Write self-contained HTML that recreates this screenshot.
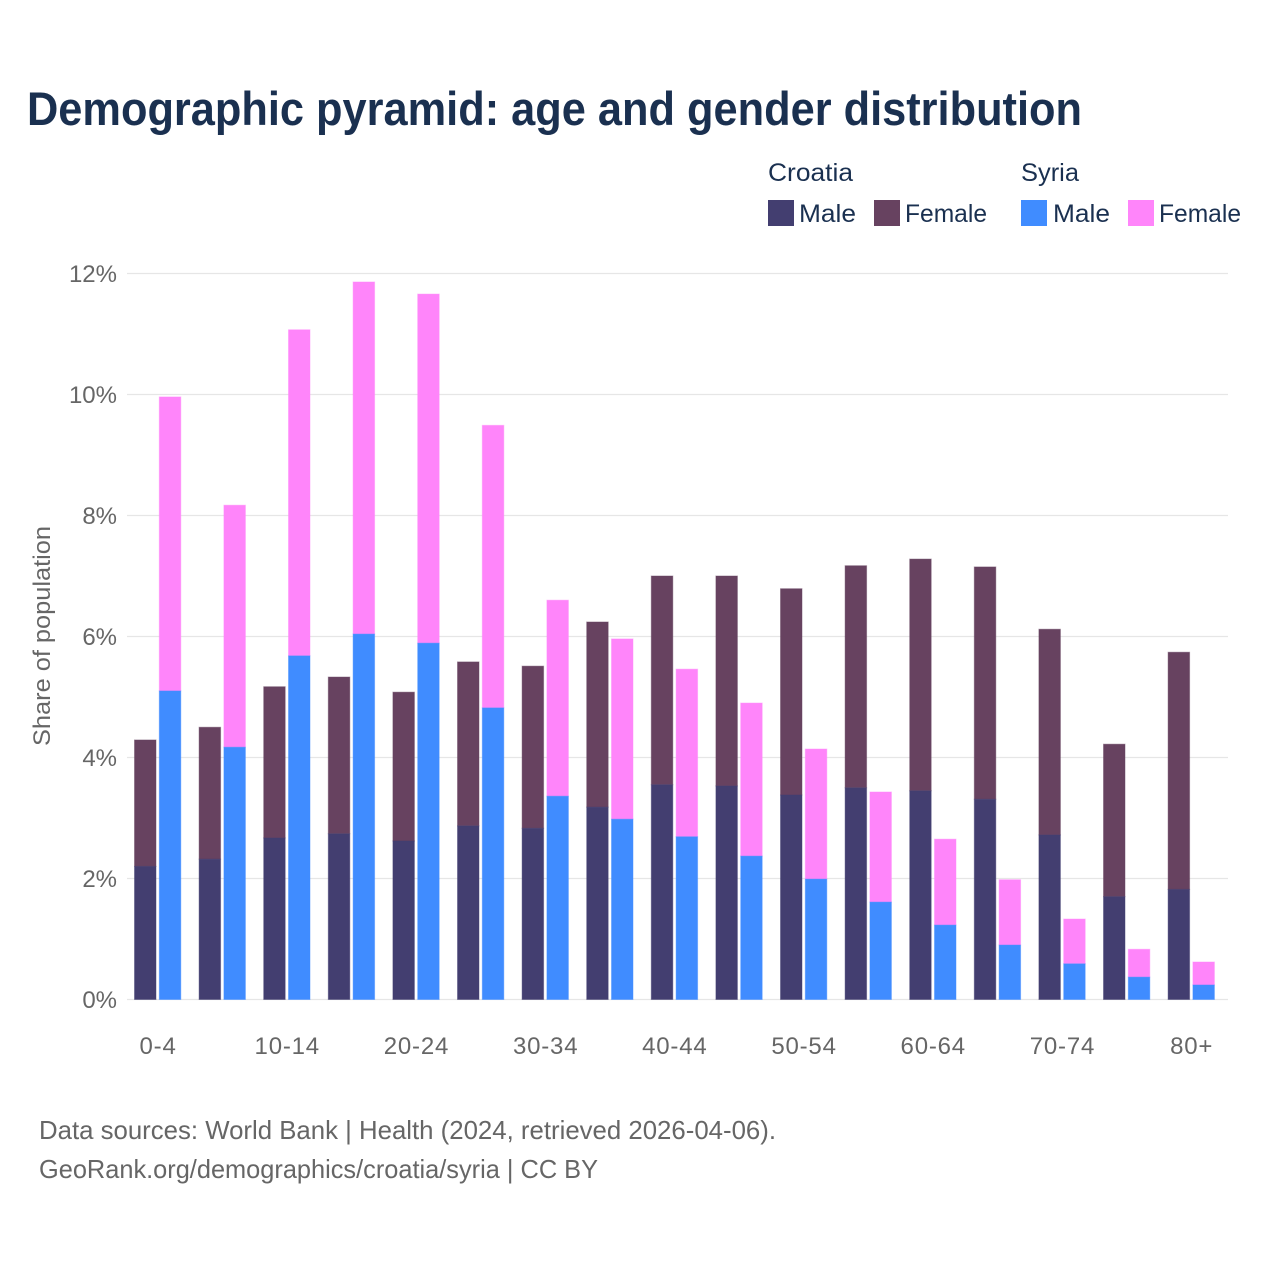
<!DOCTYPE html>
<html lang="en">
<head>
<meta charset="utf-8">
<title>Demographic pyramid</title>
<style>
html,body{margin:0;padding:0;background:#fff;width:1280px;height:1280px;overflow:hidden}
svg{display:block}
text{font-family:"Liberation Sans",sans-serif}
.lg{font-size:25px;fill:#1a3050}
.tick{font-size:24px;fill:#666}
.foot{font-size:26px;fill:#666}
</style>
</head>
<body>
<svg id="chart" width="1280" height="1280" viewBox="0 0 1280 1280" xmlns="http://www.w3.org/2000/svg">
  <text x="27" y="125" font-size="47" font-weight="700" fill="#1a3050" textLength="1055" lengthAdjust="spacingAndGlyphs">Demographic pyramid: age and gender distribution</text>

  <g>
    <text class="lg" x="768" y="181" textLength="85" lengthAdjust="spacingAndGlyphs">Croatia</text>
    <text class="lg" x="1021" y="181" textLength="58" lengthAdjust="spacingAndGlyphs">Syria</text>
    <rect x="768" y="200" width="26" height="26" fill="#433e70"/>
    <text class="lg" x="799" y="222" textLength="57" lengthAdjust="spacingAndGlyphs">Male</text>
    <rect x="874" y="200" width="26" height="26" fill="#674260"/>
    <text class="lg" x="905" y="222" textLength="82" lengthAdjust="spacingAndGlyphs">Female</text>
    <rect x="1021" y="200" width="26" height="26" fill="#408cff"/>
    <text class="lg" x="1053" y="222" textLength="57" lengthAdjust="spacingAndGlyphs">Male</text>
    <rect x="1128" y="200" width="26" height="26" fill="#ff85fa"/>
    <text class="lg" x="1159" y="222" textLength="82" lengthAdjust="spacingAndGlyphs">Female</text>
  </g>

  <g id="grid"></g>
  <g id="bars"></g>
  <g id="yaxis"></g>
  <g id="xaxis"></g>

  <text class="tick" transform="translate(50,746) rotate(-90)" x="0" y="0" textLength="220" lengthAdjust="spacingAndGlyphs">Share of population</text>

  <text class="foot" x="39" y="1139" textLength="737" lengthAdjust="spacingAndGlyphs">Data sources: World Bank | Health (2024, retrieved 2026-04-06).</text>
  <text class="foot" x="39" y="1178" textLength="559" lengthAdjust="spacingAndGlyphs">GeoRank.org/demographics/croatia/syria | CC BY</text>
</svg>
<script>
const categories = ["0-4","5-9","10-14","15-19","20-24","25-29","30-34","35-39","40-44","45-49","50-54","55-59","60-64","65-69","70-74","75-79","80+"];
const xTickLabels = ["0-4","10-14","20-24","30-34","40-44","50-54","60-64","70-74","80+"];
const yTicks = [0,2,4,6,8,10,12];
const croatiaMale = [2.2,2.32,2.67,2.74,2.62,2.87,2.83,3.18,3.55,3.53,3.38,3.5,3.45,3.31,2.72,1.7,1.82];
const croatiaFemale = [2.09,2.18,2.5,2.59,2.46,2.71,2.68,3.06,3.45,3.47,3.41,3.67,3.83,3.84,3.4,2.52,3.92];
const syriaMale = [5.1,4.17,5.68,6.04,5.89,4.82,3.36,2.98,2.69,2.37,1.99,1.61,1.23,0.9,0.59,0.37,0.24];
const syriaFemale = [4.86,4.0,5.39,5.82,5.77,4.67,3.24,2.98,2.77,2.53,2.15,1.82,1.42,1.08,0.74,0.46,0.38];

const NS = 'http://www.w3.org/2000/svg';
const yScale = function (v) { return 999.5 - v * 60.5; };
const xCenter = function (i) { return 157.65 + i * 64.6; };
const BAR_W = 21.5;
const GAP = 3.3;

function make(tag, parent, attrs) {
  const el = document.createElementNS(NS, tag);
  Object.keys(attrs).forEach(function (k) { el.setAttribute(k, attrs[k]); });
  parent.appendChild(el);
  return el;
}

const grid = document.getElementById('grid');
const yaxis = document.getElementById('yaxis');
yTicks.forEach(function (t) {
  const line = make('line', grid, { x1: 127, x2: 1228, y1: yScale(t), y2: yScale(t), stroke: '#e6e6e6', 'stroke-width': 1.2 });
  
  
  const label = make('text', yaxis, { x: 117, y: yScale(t) + 8.5, 'text-anchor': 'end', class: 'tick' });
  
  
  label.textContent = t + '%';
});

const bars = document.getElementById('bars');
function drawBar(x, base, value, fill, edge, name) {
  const top = yScale(base + value);
  const bottom = yScale(base);
  const rect = make('rect', bars, { x: x, y: top, width: BAR_W, height: bottom - top, fill: fill, stroke: edge, 'stroke-width': 1 });
  
  
}
categories.forEach(function (c, i) {
  const cx = xCenter(i);
  const xC = cx - GAP / 2 - BAR_W;
  const xS = cx + GAP / 2;
  drawBar(xC, croatiaMale[i], croatiaFemale[i], '#674260', 'rgba(103,66,96,0.45)', 'bar-croatia-female');
  drawBar(xC, 0, croatiaMale[i], '#433e70', 'rgba(67,62,112,0.45)', 'bar-croatia-male');
  drawBar(xS, syriaMale[i], syriaFemale[i], '#ff85fa', 'rgba(255,133,250,0.45)', 'bar-syria-female');
  drawBar(xS, 0, syriaMale[i], '#408cff', 'rgba(64,140,255,0.45)', 'bar-syria-male');
});

const xaxis = document.getElementById('xaxis');
xTickLabels.forEach(function (lab) {
  const t = make('text', xaxis, { x: xCenter(categories.indexOf(lab)) + 0.4, y: 1054, 'text-anchor': 'middle', class: 'tick', 'letter-spacing': '0.8' });
  
  
  t.textContent = lab;
});
</script>
</body>
</html>
